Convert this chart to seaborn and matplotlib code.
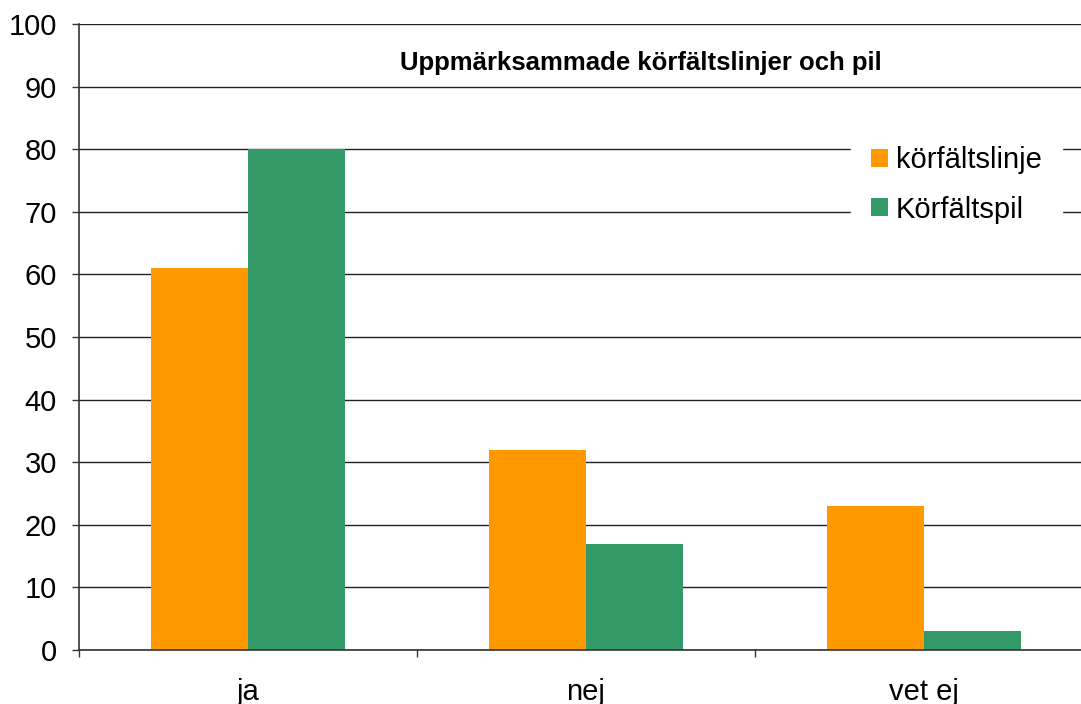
import pandas as pd
import matplotlib.pyplot as plt
import seaborn as sns

# ===== DONNEES =====
kategorier = ['ja', 'nej', 'vet ej']
serier = ['körfältslinje', 'Körfältspil']
korfaltslinje = [61, 32, 23]
korfaltspil = [80, 17, 3]
y_ticks = [0, 10, 20, 30, 40, 50, 60, 70, 80, 90, 100]

df = pd.DataFrame({
    'svar': kategorier * 2,
    'serie': [serier[0]] * 3 + [serier[1]] * 3,
    'andel': korfaltslinje + korfaltspil,
})

sns.set_theme(style='white')
plt.rcParams['font.family'] = ['Liberation Sans', 'DejaVu Sans']

W, H = 1081, 704
fig = plt.figure(figsize=(W / 100, H / 100), dpi=100)
ax = fig.add_axes([79 / W, 54 / H, 1014 / W, 626 / H])

sns.barplot(
    data=df, x='svar', y='andel', hue='serie',
    palette=['#FF9900', '#339966'],
    width=0.574, saturation=1, linewidth=0, ax=ax, zorder=2,
)

# ===== AXES =====
ax.set_xlim(-0.5, 2.5)
ax.set_ylim(0, 100)
ax.set_yticks(y_ticks)
ax.yaxis.grid(True, color='#222222', linewidth=1.0, zorder=0)
ax.set_axisbelow(True)
ax.set_xlabel('')
ax.set_ylabel('')

ax.tick_params(axis='y', labelsize=21, length=5, width=1, color='#333333',
               left=True, pad=11, labelcolor='black')
ax.set_xticks([-0.5, 0.5, 1.5], minor=True)
ax.tick_params(axis='x', which='major', length=0, labelsize=21, pad=20,
               labelcolor='black')
ax.tick_params(axis='x', which='minor', length=5, width=1, color='#333333',
               bottom=True)

for side in ['top', 'right']:
    ax.spines[side].set_visible(False)
for side in ['left', 'bottom']:
    ax.spines[side].set_color('#333333')
    ax.spines[side].set_linewidth(1.2)

ax.text(641 / W, 1 - 63 / H, 'Uppmärksammade körfältslinjer och pil',
        transform=fig.transFigure, ha='center', va='center',
        fontsize=18.5, fontweight='bold', color='black')

leg = ax.legend(
    loc='center left', bbox_to_anchor=(851 / W, 1 - 185 / H),
    bbox_transform=fig.transFigure,
    fontsize=21, frameon=True, facecolor='white', edgecolor='white',
    framealpha=1, fancybox=False, handlelength=0.58, handleheight=0.58,
    handletextpad=0.25, labelspacing=0.72, borderpad=0.7, borderaxespad=0,
    title=None,
)
for t in leg.get_texts():
    t.set_color('black')

fig.savefig('out.png', dpi=100)
